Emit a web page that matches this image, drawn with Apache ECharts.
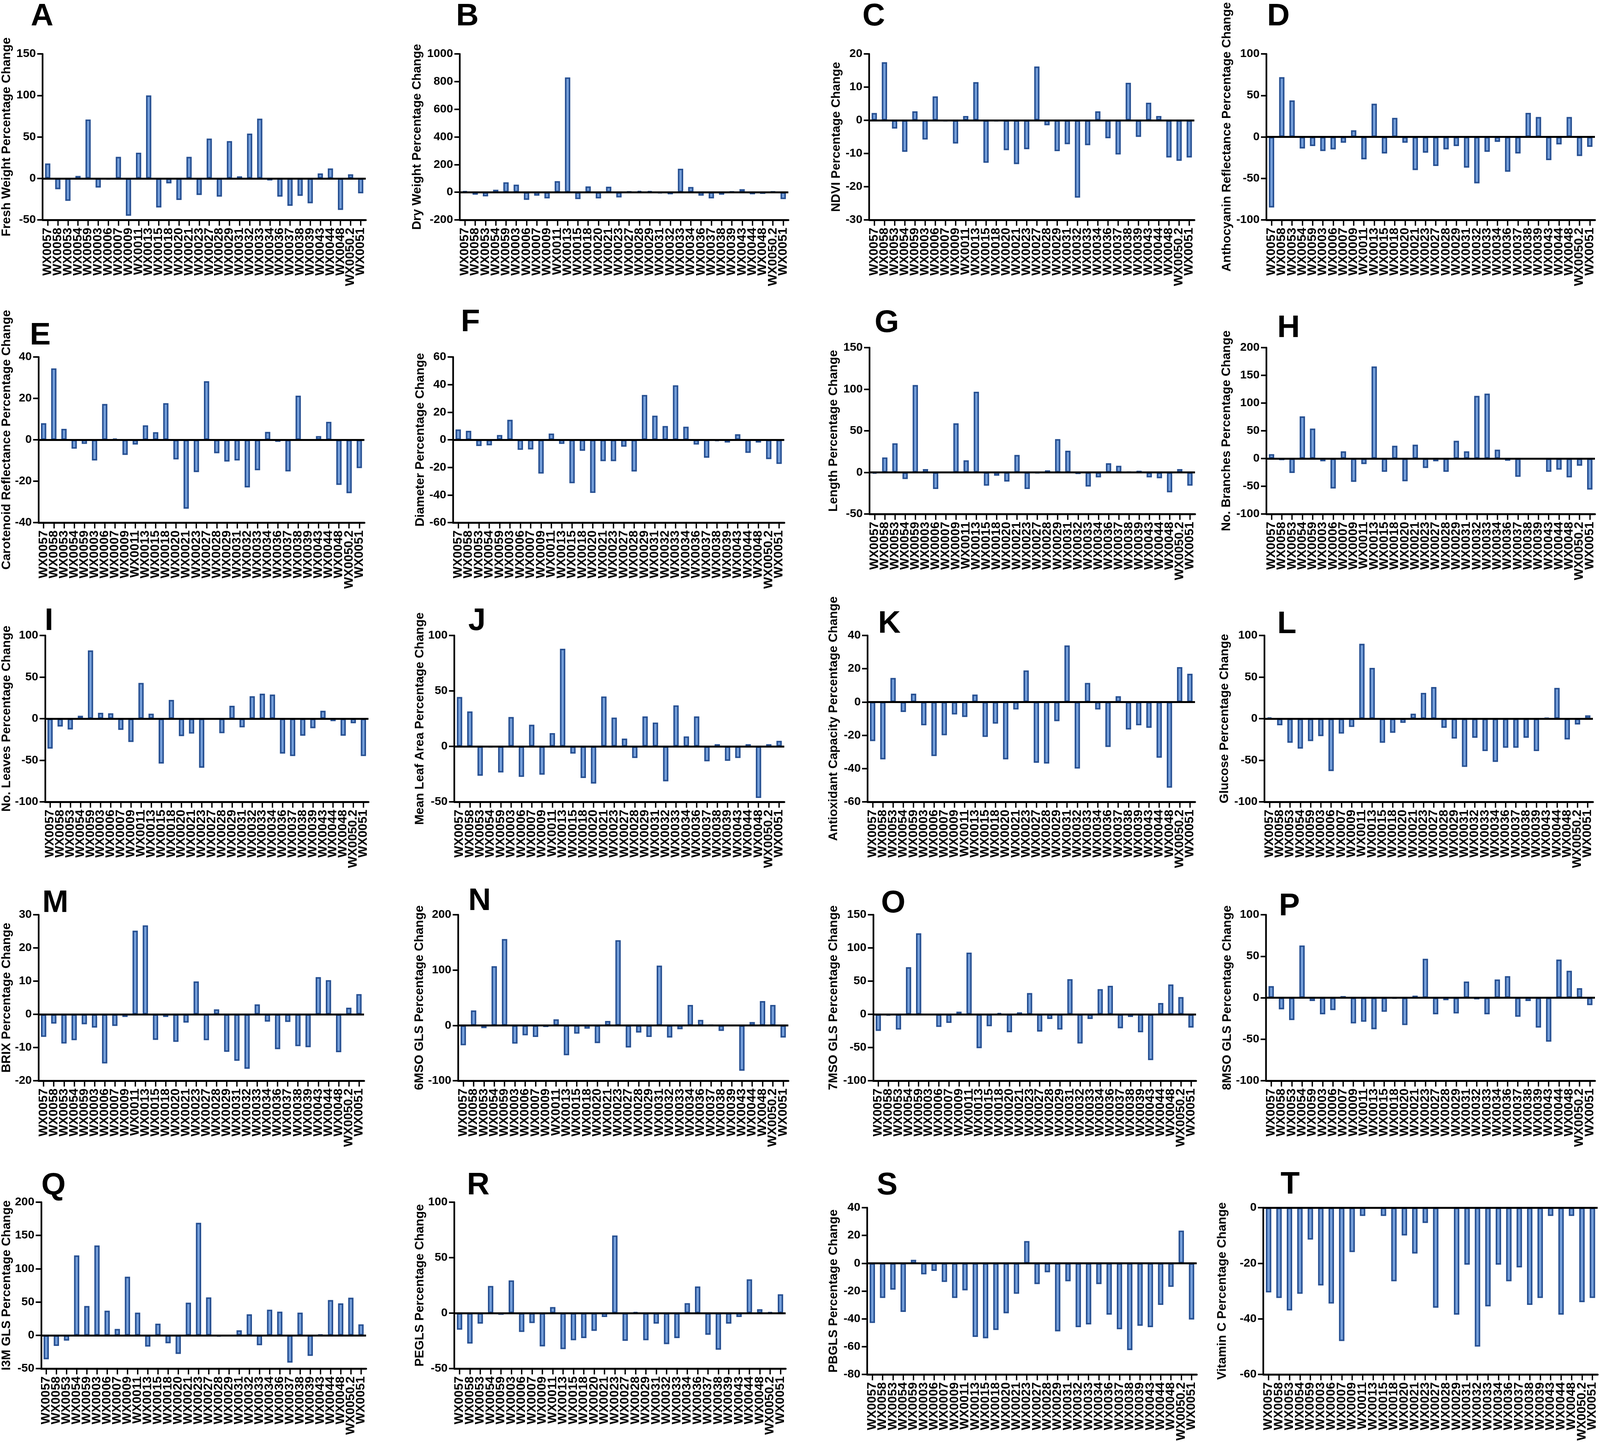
<!DOCTYPE html>
<html><head><meta charset="utf-8">
<script src="https://cdn.jsdelivr.net/npm/echarts@6/dist/echarts.min.js"></script>
<style>html,body{margin:0;padding:0;background:#fff;overflow:hidden}#c{position:absolute;left:0;top:0}</style>
</head><body><div id="c"></div>
<script>
// ---------- DATA ----------
const categories = ['WX0057','WX0058','WX0053','WX0054','WX0059','WX0003','WX0006','WX0007','WX0009','WX0011','WX0013','WX0015','WX0018','WX0020','WX0021','WX0023','WX0027','WX0028','WX0029','WX0031','WX0032','WX0033','WX0034','WX0036','WX0037','WX0038','WX0039','WX0043','WX0044','WX0048','WX0050.2','WX0051'];

const freshWeight = [18,-13,-27,3,71,-11,-1.5,26,-45,31,100,-35,-6,-26,26,-20,48,-22,45,2.5,54,72,-2.5,-22,-33,-21,-30,6,12,-38,5,-18];
const dryWeight = [8,-18,-30,18,72,55,-55,-25,-45,80,830,-50,42,-45,40,-38,5,10,8,-8,-15,170,38,-25,-45,-18,5,22,-15,-12,5,-50];
const ndvi = [2.2,17.5,-2.5,-9.5,2.7,-5.8,7.2,-0.3,-7,1.3,11.5,-12.8,-0.3,-9,-13.2,-8.7,16.2,-1.5,-9.3,-7.2,-23.3,-7.5,2.7,-5.4,-10.3,11.3,-5,5.3,1.3,-11.2,-12.2,-11.2];
const anthocyanin = [-85,72,44,-14,-11,-17,-15,-7,8,-27,40,-20,23,-7,-40,-19,-35,-15,-11,-37,-56,-18,-6,-42,-20,29,24,-28,-9,24,-23,-12];
const carotenoid = [8,34.5,5.3,-4.3,-2,-10,17.3,0.6,-7.3,-2.3,7,3.7,17.7,-9.5,-33.3,-15.6,28.3,-6.5,-10.5,-10,-23,-14.7,3.8,-1,-15.3,21.3,-0.3,1.8,8.7,-21.8,-25.8,-13.7];
const diameter = [7.5,6.5,-4.5,-4,3.5,14.5,-7.3,-7,-24.5,4.5,-3,-31.5,-8,-38.5,-15.5,-15.5,-5,-23,32.5,17.5,10,39.5,9.5,-3.5,-13,-1,-2,4,-9.5,-2,-14,-17.5];
const lengthChange = [-1.5,18,35,-8,105,4,-20,-0.5,59,14.5,97,-16,-4,-11,21,-20,-1,2.5,40,26,-2,-17,-6,11,8,0.8,2,-6,-7,-24,4,-16];
const branches = [8,-3,-26,76,54,-5,-54,13,-42,-10,166,-24,23,-41,25,-17,-5,-24,32,13,113,117,16,-4,-33,0,0,-24,-20,-34,-13,-56];
const leaves = [-36,-9.5,-13,3.5,82,7,6.5,-13.5,-28,43,6,-54,22.5,-21,-18,-59,-1,-17.5,15.5,-10.5,27,30,29,-42,-45,-20.5,-11.5,9.5,-3,-20.5,-5.5,-45];
const leafArea = [44.5,31.5,-26.5,-1,-23.5,26.5,-27.5,19.5,-25.5,12,88,-6.5,-28.5,-33.5,45,26,7,-10.5,27,21.5,-31.5,37,9,27,-13.5,2,-13,-10.5,2,-46.5,2,5];
const antioxidant = [-23.5,-34.5,14.5,-6,5,-14,-32.5,-20,-7.5,-9,4.5,-21,-13,-34.5,-4.5,19,-36.5,-37,-11.5,34,-40,11.5,-4.5,-27,3.5,-16.5,-14,-15.5,-33.5,-51.5,21,17];
const glucose = [1.5,-8,-29,-36,-27,-21,-63,-18,-10,90,61,-29,-17,-5,6,31,38,-11,-24,-58,-23,-39,-52,-35,-35,-23,-39,1,37,-25,-7,4];
const brix = [-6.8,-2.8,-8.8,-7.8,-3,-4,-14.8,-3.5,-0.8,25.2,26.8,-7.7,-0.8,-8.3,-2.5,9.9,-7.8,1.5,-11.3,-14,-16.4,3,-2.2,-10.5,-2.3,-9.6,-9.9,11.2,10.3,-11.4,2,6.1];
const gls6mso = [-36,27,-5,107,156,-33,-18,-21,-3,11,-54,-15,-6,-32,8,154,-40,-13,-21,108,-22,-7,37,10,1,-10,0,-82,6,44,37,-22];
const gls7mso = [-25,-2,-23,71,122,-1,-19,-13,4,93,-51,-18,2,-27,3,32,-26,-7,-23,53,-44,-7,38,43,-21,-4,-27,-69,17,45,26,-20];
const gls8mso = [14,-14,-27,63,-4,-20,-15,2,-31,-29,-38,-17,-1,-33,2.5,47,-20,-3,-19,19.5,-2,-20,22,26,-23,-4,-36,-53,46,32.5,11.5,-9];
const i3m = [-36,-16,-8,120,44,135,37,9.5,88,34,-17,17.5,-12,-28,49,169,57,-2,-1,7.5,31.5,-15,38.5,35.5,-41,34,-31,1,53,48,56.5,16.5];
const pegls = [-15,-27.5,-9.5,24.5,-1.5,29.5,-17,-9,-30,5.5,-32.5,-24.5,-22.5,-16,-3.5,70,-25,1,-24.5,-9.5,-28,-22.5,9,24,-19.5,-33,-9.5,-3.5,30.5,3.5,1,17];
const pbgls = [-43,-25,-19,-35,2.5,-8,-5.5,-13.5,-25,-19.5,-53,-54,-48,-36,-22,16,-15,-6.5,-49,-13,-46,-44,-15,-37,-47.5,-62.5,-45,-46,-30,-17,23.5,-40.5];
const vitaminC = [-30.5,-32.5,-37,-31,-11.5,-28,-34.5,-48,-16,-3,0,-3,-26.5,-10,-16.5,-5.5,-36,-0.2,-38.5,-20.5,-50,-35.5,-20.5,-26.5,-21.5,-35,-32.5,-3,-38.5,-3,-34,-32.5];

const panelLetters = ['A','B','C','D','E','F','G','H','I','J','K','L','M','N','O','P','Q','R','S','T'];
const axisTitles = ['Fresh Weight Percentage Change','Dry Weight Percentage Change','NDVI Percentage Change','Anthocyanin Reflectance Percentage Change',
  'Carotenoid Reflectance Percentage Change','Diameter Percentage Change','Length Percentage Change','No. Branches Percentage Change',
  'No. Leaves Percentage Change','Mean Leaf Area Percentage Change','Antioxidant Capacity Percentage Change','Glucose Percentage Change',
  'BRIX Percentage Change','6MSO GLS Percentage Change','7MSO GLS Percentage Change','8MSO GLS Percentage Change',
  'I3M GLS Percentage Change','PEGLS Percentage Change','PBGLS Percentage Change','Vitamin C Percentage Change'];
const seriesValues = [freshWeight,dryWeight,ndvi,anthocyanin,carotenoid,diameter,lengthChange,branches,leaves,leafArea,antioxidant,glucose,brix,gls6mso,gls7mso,gls8mso,i3m,pegls,pbgls,vitaminC];
const yMin  = [-50,-200,-30,-100,-40,-60,-50,-100,-100,-50,-60,-100,-20,-100,-100,-100,-50,-50,-80,-60];
const yMax  = [150,1000,20,100,40,60,150,200,100,100,40,100,30,200,150,100,200,100,40,0];
const yStep = [50,200,10,50,20,20,50,50,50,50,20,50,10,100,50,50,50,50,20,20];

// ---------- LAYOUT (design pixels on a 4729 x 3692 page) ----------
// [left, right, top, bottom, nameGap, letterX, letterTop]
const layout = [
  [115,1081,138,563, 88,  91,  17],
  [1359,2330,138,563,107, 1348,17],
  [2569,3530,138,563,78,  2549,17],
  [3743,4714,138,563,98,  3745,17],
  [103,1077,914,1338,75,  88,  834],
  [1339,2318,914,1338,78, 1362,800],
  [2570,3532,890,1316,87, 2585,802],
  [3743,4714,890,1316,99, 3775,815],
  [118,1089,1627,2053,90, 132, 1565],
  [1343,2318,1627,2053,78,1384,1565],
  [2564,3532,1627,2053,81,2595,1572],
  [3737,4708,1627,2053,99,3775,1573],
  [103,1076,2342,2767,75, 125, 2287],
  [1354,2330,2342,2767,93,1384,2282],
  [2581,3535,2342,2767,98,2604,2288],
  [3742,4714,2342,2767,96,3780,2295],
  [106,1082,3078,3504,78, 122, 3010],
  [1343,2322,3078,3504,82,1380,3010],
  [2563,3537,3092,3519,81,2591,3010],
  [3734,4722,3092,3519,103,3785,3008]
];

// fit the design page into whatever viewport the browser really has
const W0 = 4729, H0 = 3692;
const vw = window.innerWidth || W0, vh = window.innerHeight || H0;
const sx = vw / W0, sy = vh / H0;
const fs = (sx + sy) / 2;
const X = v => v * sx, Y = v => v * sy, F = v => v * fs;
const dom = document.getElementById('c');
dom.style.width = vw + 'px';
dom.style.height = vh + 'px';

const FONT = '"Liberation Sans", Arial, Helvetica, sans-serif';
const TICK_FS = F(32), LABEL_FS = Y(32), NAME_FS = Y(32), LETTER_FS = F(86);
const meas = document.createElement('canvas').getContext('2d');
meas.font = 'bold ' + TICK_FS + 'px ' + FONT;

const grids = [], xAxes = [], yAxes = [], series = [], graphics = [];
for (let i = 0; i < 20; i++) {
  const [l, r, t, b, gap, lx, ly] = layout[i];
  // widest tick label of this panel, to keep the axis title clear of it
  let maxW = 0;
  for (let v = yMin[i]; v <= yMax[i] + 1e-9; v += yStep[i]) maxW = Math.max(maxW, meas.measureText(String(v)).width);
  const yMargin = X(20);
  const nameGap = Math.max(X(gap), yMargin + maxW + X(6));

  grids.push({left: X(l), top: Y(t), width: X(r - l), height: Y(b - t), containLabel: false});
  xAxes.push({
    type: 'category', gridIndex: i, data: categories, position: 'bottom',
    axisLine: {show: true, onZero: false, lineStyle: {color: '#000', width: Y(5)}},
    axisTick: {show: true, alignWithLabel: true, length: Y(15), lineStyle: {color: '#000', width: X(4)}},
    axisLabel: {interval: 0, rotate: 90, margin: Y(20), color: '#000', fontFamily: FONT, fontWeight: 'bold', fontSize: LABEL_FS},
    splitLine: {show: false}
  });
  yAxes.push({
    type: 'value', gridIndex: i, min: yMin[i], max: yMax[i], interval: yStep[i],
    name: axisTitles[i], nameLocation: 'middle', nameRotate: 90, nameGap: nameGap,
    nameTextStyle: {color: '#000', fontFamily: FONT, fontWeight: 'bold', fontSize: NAME_FS},
    axisLine: {show: true, onZero: false, lineStyle: {color: '#000', width: X(5)}},
    axisTick: {show: true, length: X(16), lineStyle: {color: '#000', width: Y(4)}},
    axisLabel: {margin: yMargin, color: '#000', fontFamily: FONT, fontWeight: 'bold', fontSize: TICK_FS,
      formatter: v => String(v)},
    splitLine: {show: false}
  });
  series.push({
    type: 'bar', xAxisIndex: i, yAxisIndex: i, data: seriesValues[i],
    barWidth: '52%',
    itemStyle: {color: '#759fda', borderColor: '#275092', borderWidth: X(4.5)},
    markLine: {
      silent: true, symbol: ['none', 'none'], label: {show: false},
      lineStyle: {color: '#000', width: Y(5), type: 'solid'},
      emphasis: {disabled: true},
      data: [{yAxis: 0}]
    }
  });
  graphics.push({
    type: 'text', left: X(lx), top: Y(ly - 14), silent: true,
    style: {text: panelLetters[i], fill: '#000', font: 'bold ' + LETTER_FS + 'px ' + FONT}
  });
}

const chart = echarts.init(dom, null, {width: vw, height: vh});
chart.setOption({
  animation: false,
  backgroundColor: '#fff',
  grid: grids, xAxis: xAxes, yAxis: yAxes, series: series,
  graphic: graphics
});
</script>
</body></html>
